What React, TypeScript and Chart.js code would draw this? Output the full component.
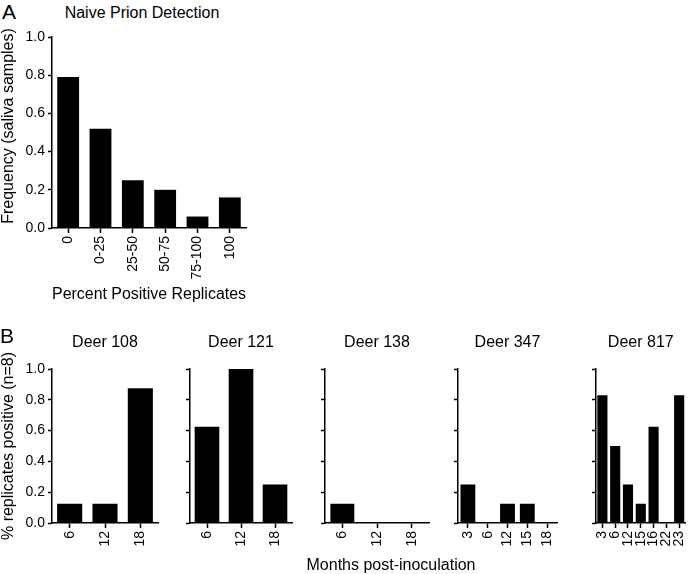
import React, { useEffect, useRef } from 'react';
import { Chart, registerables } from 'chart.js';

Chart.register(...registerables);

const FONT = "Arial, 'Liberation Sans', Helvetica, sans-serif";

// ---------- Data ----------
const naiveCategories = ['0', '0-25', '25-50', '50-75', '75-100', '100'];
const naiveFrequency = [0.79, 0.52, 0.25, 0.2, 0.06, 0.16];

const deer108Months = ['6', '12', '18'];
const deer108Values = [0.125, 0.125, 0.875];

const deer121Months = ['6', '12', '18'];
const deer121Values = [0.625, 1.0, 0.25];

const deer138Months = ['6', '12', '18'];
const deer138Values = [0.125, 0, 0];

const deer347Months = ['3', '6', '12', '15', '18'];
const deer347Values = [0.25, 0, 0.125, 0.125, 0];

const deer817Months = ['3', '6', '12', '15', '16', '22', '23'];
const deer817Values = [0.83, 0.5, 0.25, 0.125, 0.625, 0, 0.83];

const yMin = 0;
const yMax = 1;
const yStep = 0.2;

type PanelProps = {
  left: number;
  top: number;
  width: number;
  height: number;
  labels: string[];
  values: number[];
  title?: string;
  titlePadTop?: number;
  titlePadBottom?: number;
  padTop: number;
  yWidth: number;
  xHeight: number;
  padRight: number;
  showYLabels: boolean;
  barPct: number;
  xTitle?: string;
  xTitlePadBottom?: number;
};

function BarPanel(p: PanelProps) {
  const ref = useRef<HTMLCanvasElement>(null);
  useEffect(() => {
    const canvas = ref.current;
    if (!canvas) return;
    const chart = new Chart(canvas, {
      type: 'bar',
      data: {
        labels: p.labels,
        datasets: [
          {
            data: p.values,
            backgroundColor: '#000',
            borderWidth: 0,
            barPercentage: p.barPct,
            categoryPercentage: 1,
          },
        ],
      },
      options: {
        responsive: false,
        animation: false,
        devicePixelRatio: 1,
        layout: { padding: { left: 0, right: p.padRight, top: p.padTop, bottom: 0 } },
        plugins: {
          legend: { display: false },
          tooltip: { enabled: false },
          title: p.title
            ? {
                display: true,
                text: p.title,
                fullSize: false,
                color: '#000',
                font: { family: FONT, size: 16, weight: 'normal' as any },
                padding: { top: p.titlePadTop ?? 0, bottom: p.titlePadBottom ?? 0 },
              }
            : { display: false },
        },
        scales: {
          x: {
            offset: true,
            grid: {
              display: true,
              offset: false,
              drawOnChartArea: false,
              drawTicks: true,
              tickLength: 5,
              tickColor: '#000',
              tickWidth: 1.5,
            },
            border: { display: true, color: '#000', width: 1.5 },
            ticks: {
              autoSkip: false,
              minRotation: 90,
              maxRotation: 90,
              padding: 3,
              color: '#000',
              font: { family: FONT, size: 14 },
            },
            title: p.xTitle
              ? {
                  display: true,
                  text: p.xTitle,
                  color: '#000',
                  font: { family: FONT, size: 16 },
                  padding: { top: 0, bottom: p.xTitlePadBottom ?? 0 },
                }
              : { display: false },
            afterFit: (s: any) => {
              s.height = p.xHeight;
            },
          },
          y: {
            min: yMin,
            max: yMax,
            grid: {
              display: true,
              drawOnChartArea: false,
              drawTicks: true,
              tickLength: 4,
              tickColor: '#000',
              tickWidth: 1.5,
            },
            border: { display: true, color: '#000', width: 1.5 },
            ticks: {
              stepSize: yStep,
              display: p.showYLabels,
              padding: 3,
              color: '#000',
              font: { family: FONT, size: 14 },
              callback: (v: any) => Number(v).toFixed(1),
            },
            afterFit: (s: any) => {
              s.width = p.yWidth;
            },
          },
        },
      },
    });
    return () => chart.destroy();
  }, []);
  return (
    <canvas
      ref={ref}
      width={p.width}
      height={p.height}
      style={{ position: 'absolute', left: p.left, top: p.top, width: p.width, height: p.height }}
    />
  );
}

function VText({ cx, cy, text }: { cx: number; cy: number; text: string }) {
  const w = 260;
  return (
    <div
      style={{
        position: 'absolute',
        left: cx - w / 2,
        top: cy - 10,
        width: w,
        height: 20,
        lineHeight: '20px',
        textAlign: 'center',
        fontFamily: FONT,
        fontSize: 16,
        color: '#000',
        whiteSpace: 'nowrap',
        transform: 'rotate(-90deg)',
        transformOrigin: '50% 50%',
      }}
    >
      {text}
    </div>
  );
}

function Label({
  left,
  top,
  text,
  size,
  width,
  center,
}: {
  left: number;
  top: number;
  text: string;
  size: number;
  width?: number;
  center?: boolean;
}) {
  return (
    <div
      style={{
        position: 'absolute',
        left,
        top,
        width,
        textAlign: center ? 'center' : 'left',
        fontFamily: FONT,
        fontSize: size,
        lineHeight: `${Math.round(size * 1.2)}px`,
        color: '#000',
        whiteSpace: 'nowrap',
      }}
    >
      {text}
    </div>
  );
}

const bTop = 330;
const bHeight = 244;
const bTitlePadTop = 3.4;
const bTitlePadBottom = 16.4;
const bXHeight = 51;

export default function App() {
  return (
    <div style={{ position: 'absolute', left: 0, top: 0, width: 700, height: 574, background: '#fff', overflow: 'hidden' }}>
      <Label left={2} top={-1} text="A" size={21} />
      <Label left={142 - 120} top={3} width={240} center text="Naive Prion Detection" size={16} />
      <BarPanel
        left={0}
        top={0}
        width={285}
        height={305}
        labels={naiveCategories}
        values={naiveFrequency}
        padTop={37}
        yWidth={52}
        xHeight={77}
        padRight={39}
        showYLabels={true}
        barPct={0.675}
        xTitle="Percent Positive Replicates"
        xTitlePadBottom={0.5}
      />
      <VText cx={8} cy={126} text="Frequency (saliva samples)" />

      <Label left={0} top={323} text="B" size={21} />
      <BarPanel
        left={0}
        top={bTop}
        width={165}
        height={bHeight}
        labels={deer108Months}
        values={deer108Values}
        title="Deer 108"
        titlePadTop={bTitlePadTop}
        titlePadBottom={bTitlePadBottom}
        padTop={0}
        yWidth={52}
        xHeight={bXHeight}
        padRight={7}
        showYLabels={true}
        barPct={0.71}
      />
      <BarPanel
        left={170}
        top={bTop}
        width={130}
        height={bHeight}
        labels={deer121Months}
        values={deer121Values}
        title="Deer 121"
        titlePadTop={bTitlePadTop}
        titlePadBottom={bTitlePadBottom}
        padTop={0}
        yWidth={20}
        xHeight={bXHeight}
        padRight={8}
        showYLabels={false}
        barPct={0.725}
      />
      <BarPanel
        left={305}
        top={bTop}
        width={130}
        height={bHeight}
        labels={deer138Months}
        values={deer138Values}
        title="Deer 138"
        titlePadTop={bTitlePadTop}
        titlePadBottom={bTitlePadBottom}
        padTop={0}
        yWidth={20}
        xHeight={bXHeight}
        padRight={6}
        showYLabels={false}
        barPct={0.69}
      />
      <BarPanel
        left={438}
        top={bTop}
        width={130}
        height={bHeight}
        labels={deer347Months}
        values={deer347Values}
        title="Deer 347"
        titlePadTop={bTitlePadTop}
        titlePadBottom={bTitlePadBottom}
        padTop={0}
        yWidth={20}
        xHeight={bXHeight}
        padRight={6}
        showYLabels={false}
        barPct={0.75}
      />
      <BarPanel
        left={576}
        top={bTop}
        width={124}
        height={bHeight}
        labels={deer817Months}
        values={deer817Values}
        title="Deer 817"
        titlePadTop={bTitlePadTop}
        titlePadBottom={bTitlePadBottom}
        padTop={0}
        yWidth={20}
        xHeight={bXHeight}
        padRight={0}
        showYLabels={false}
        barPct={0.79}
      />
      <VText cx={8} cy={446} text="% replicates positive (n=8)" />
      <Label left={391 - 150} top={555} width={300} center text="Months post-inoculation" size={16} />
    </div>
  );
}
